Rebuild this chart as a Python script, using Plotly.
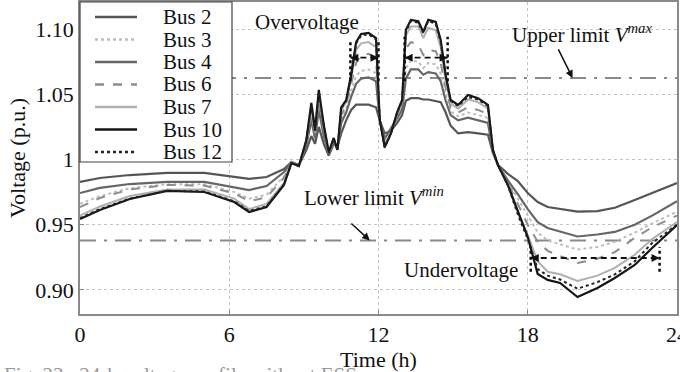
import plotly.graph_objects as go

T = [0, 0.8, 2, 3.5, 5, 6.2, 6.8, 7.5, 8.2, 8.5, 8.8, 9.1, 9.3, 9.45, 9.6, 9.8, 10.0, 10.2, 10.35, 10.5,
     10.7, 10.9, 11.1, 11.3, 11.6, 11.9, 12.05, 12.25, 12.5, 12.75, 12.95, 13.1, 13.3, 13.6, 13.8, 14.0,
     14.3, 14.5, 14.7, 14.9, 15.2, 15.6, 16.0, 16.4, 16.6, 16.8, 17.2, 17.6, 18.0, 18.4, 18.8, 19.3,
     20.0, 20.8, 21.5, 22.3, 23.0, 24.0]

bus2 = [0.9828, 0.9858, 0.9881, 0.9897, 0.9897, 0.9866, 0.9851, 0.9866, 0.9927, 0.9981, 0.9958, 1.0073,
        1.018, 1.012, 1.025, 1.012, 1.003, 1.012, 1.010, 1.020, 1.030, 1.038, 1.042, 1.042, 1.042, 1.040,
        1.030, 1.020, 1.022, 1.028, 1.034, 1.045, 1.047, 1.047, 1.046, 1.046, 1.045, 1.044, 1.036, 1.026,
        1.020, 1.021, 1.020, 1.019, 1.005, 0.996, 0.989, 0.9835, 0.9743, 0.9674, 0.9636, 0.962, 0.960,
        0.9605, 0.963, 0.969, 0.9743, 0.982]
bus3 = [0.966, 0.972, 0.978, 0.981, 0.981, 0.975, 0.970, 0.973, 0.987, 0.998, 0.995, 1.012, 1.033, 1.018,
        1.042, 1.020, 1.004, 1.015, 1.008, 1.031, 1.039, 1.053, 1.064, 1.068, 1.069, 1.066, 1.030, 1.014,
        1.022, 1.033, 1.040, 1.070, 1.076, 1.075, 1.070, 1.074, 1.073, 1.066, 1.050, 1.037, 1.033, 1.036,
        1.034, 1.032, 1.006, 0.996, 0.983, 0.970, 0.956, 0.944, 0.938, 0.935, 0.931, 0.933, 0.937, 0.944,
        0.951, 0.960]
bus4 = [0.9743, 0.9782, 0.9812, 0.9828, 0.9828, 0.9789, 0.9766, 0.9797, 0.9904, 0.9981, 0.9958, 1.011,
        1.030, 1.016, 1.038, 1.018, 1.004, 1.014, 1.008, 1.028, 1.036, 1.048, 1.058, 1.062, 1.063, 1.060,
        1.030, 1.016, 1.024, 1.032, 1.038, 1.062, 1.069, 1.069, 1.065, 1.067, 1.066, 1.060, 1.045, 1.034,
        1.030, 1.032, 1.030, 1.028, 1.006, 0.996, 0.984, 0.9735, 0.962, 0.952, 0.9475, 0.945, 0.941,
        0.9425, 0.9445, 0.950, 0.957, 0.968]
bus6 = [0.9636, 0.9705, 0.977, 0.9805, 0.980, 0.974, 0.968, 0.971, 0.986, 0.998, 0.995, 1.013, 1.036,
        1.019, 1.045, 1.022, 1.004, 1.015, 1.008, 1.034, 1.042, 1.058, 1.074, 1.080, 1.081, 1.077, 1.030,
        1.012, 1.020, 1.034, 1.042, 1.085, 1.090, 1.088, 1.080, 1.084, 1.083, 1.074, 1.055, 1.040, 1.036,
        1.040, 1.038, 1.035, 1.006, 0.996, 0.982, 0.966, 0.950, 0.937, 0.930, 0.926, 0.9207, 0.924, 0.929,
        0.940, 0.948, 0.957]
bus7 = [0.957, 0.964, 0.972, 0.977, 0.977, 0.970, 0.962, 0.966, 0.982, 0.998, 0.995, 1.014, 1.040, 1.021,
        1.050, 1.025, 1.005, 1.016, 1.008, 1.038, 1.044, 1.062, 1.084, 1.089, 1.090, 1.086, 1.030, 1.010,
        1.020, 1.035, 1.044, 1.095, 1.102, 1.102, 1.093, 1.101, 1.099, 1.086, 1.060, 1.043, 1.039, 1.046,
        1.044, 1.039, 1.007, 0.996, 0.981, 0.960, 0.942, 0.922, 0.914, 0.912, 0.907, 0.911, 0.917, 0.927,
        0.939, 0.952]
bus10 = [0.9544, 0.9613, 0.9697, 0.9759, 0.9751, 0.9674, 0.9598, 0.9636, 0.9805, 0.9973, 0.995, 1.015,
         1.0433, 1.0226, 1.0533, 1.0264, 1.0057, 1.0165, 1.0073, 1.040, 1.0456, 1.0648, 1.090, 1.0962,
         1.097, 1.093, 1.0303, 1.0096, 1.020, 1.0364, 1.0456, 1.0992, 1.107, 1.106, 1.0977, 1.107, 1.1054,
         1.0916, 1.0648, 1.0456, 1.0418, 1.0494, 1.047, 1.0418, 1.0073, 0.9958, 0.9805, 0.9598, 0.9406,
         0.9123, 0.9077, 0.9054, 0.8946, 0.9015, 0.9092, 0.9192, 0.9322, 0.9498]
bus12 = [0.955, 0.962, 0.970, 0.976, 0.9755, 0.968, 0.9605, 0.964, 0.981, 0.997, 0.995, 1.015, 1.042,
         1.022, 1.052, 1.026, 1.005, 1.016, 1.007, 1.039, 1.045, 1.064, 1.089, 1.095, 1.096, 1.092, 1.030,
         1.009, 1.020, 1.036, 1.045, 1.098, 1.106, 1.105, 1.097, 1.106, 1.104, 1.090, 1.064, 1.045, 1.041,
         1.048, 1.046, 1.041, 1.007, 0.996, 0.980, 0.958, 0.939, 0.916, 0.911, 0.908, 0.901, 0.906, 0.912,
         0.922, 0.936, 0.950]

V_MAX = 1.0625
V_MIN = 0.938
X_TICKS = [0, 6, 12, 18, 24]
Y_TICKS = [0.90, 0.95, 1.0, 1.05, 1.10]
Y_TICK_LABELS = ["0.90", "0.95", "1", "1.05", "1.10"]

OV1 = (10.87, 12.0)
OV2 = (13.05, 14.78)
UV = (18.12, 23.3)
OV_ARROW_Y = 1.078
UV_ARROW_Y = 0.9245

series = [
    ("Bus 2", bus2, "#555555", "solid", 2.2),
    ("Bus 3", bus3, "#bdbdbd", "dot", 2),
    ("Bus 4", bus4, "#666666", "solid", 2.2),
    ("Bus 6", bus6, "#8c8c8c", "dash", 2),
    ("Bus 7", bus7, "#b0b0b0", "solid", 2),
    ("Bus 10", bus10, "#151515", "solid", 2.2),
    ("Bus 12", bus12, "#222222", "dot", 2),
]

FONT = "Liberation Serif"
W, H = 680, 372
ML, MR, MT, MB = 80, 3, 2, 58
PW, PH = W - ML - MR, H - MT - MB


def px_x(px):
    return (px - ML) / PW


def px_y(py):
    return (H - MB - py) / PH


fig = go.Figure()

lim_dash = "16px,8px,3px,8px"
fig.add_trace(go.Scatter(x=[0, 24], y=[V_MAX, V_MAX], mode="lines", showlegend=False,
                         line=dict(color="#8a8a8a", width=2, dash=lim_dash)))
fig.add_trace(go.Scatter(x=[0, 24], y=[V_MIN, V_MIN], mode="lines", showlegend=False,
                         line=dict(color="#8a8a8a", width=2, dash=lim_dash)))

for name, vals, col, dash, w in series:
    fig.add_trace(go.Scatter(x=T, y=vals, mode="lines", name=name, showlegend=False,
                             line=dict(color=col, width=w, dash=dash)))

shapes = []
for (a, b), (y0, y1) in [(OV1, (1.060, 1.091)), (OV2, (1.060, 1.094)), (UV, (0.914, 0.933))]:
    for xx in (a, b):
        shapes.append(dict(type="line", xref="x", yref="y", x0=xx, x1=xx, y0=y0, y1=y1,
                           line=dict(color="#111111", width=2.5, dash="dot")))
for (a, b), yy in [(OV1, OV_ARROW_Y), (OV2, OV_ARROW_Y), (UV, UV_ARROW_Y)]:
    shapes.append(dict(type="line", xref="x", yref="y", x0=a, x1=b, y0=yy, y1=yy,
                       line=dict(color="#111111", width=1.8, dash="6px,4px")))

annotations = []
for (a, b), yy in [(OV1, OV_ARROW_Y), (OV2, OV_ARROW_Y), (UV, UV_ARROW_Y)]:
    for tip, tail in ((a, a + 0.25), (b, b - 0.25)):
        annotations.append(dict(x=tip, y=yy, ax=tail, ay=yy, xref="x", yref="y", axref="x", ayref="y",
                                text="", showarrow=True, arrowhead=2, arrowsize=1, arrowwidth=1.6,
                                arrowcolor="#111111"))

# legend box (drawn by hand to match the compact row spacing)
shapes.append(dict(type="rect", xref="paper", yref="paper", x0=px_x(80), x1=px_x(232),
                   y0=px_y(162), y1=px_y(2), fillcolor="white", line=dict(color="#444444", width=1.2),
                   layer="above"))
for i, (name, vals, col, dash, w) in enumerate(series):
    ry = 17 + i * 22.5
    shapes.append(dict(type="line", xref="paper", yref="paper", x0=px_x(95), x1=px_x(137),
                       y0=px_y(ry), y1=px_y(ry), line=dict(color=col, width=w + 0.3, dash=dash),
                       layer="above"))
    annotations.append(dict(x=px_x(161), y=px_y(ry), xref="paper", yref="paper", xanchor="left",
                            yanchor="middle", text=name, showarrow=False,
                            font=dict(family=FONT, size=21, color="#111111")))

tf = dict(family=FONT, size=21, color="#111111")
annotations += [
    dict(x=9.14, y=1.1054, xref="x", yref="y", text="Overvoltage", showarrow=False, font=tf),
    dict(x=20.2, y=1.0965, xref="x", yref="y", text="Upper limit <i>V</i><sup><i>max</i></sup>",
         showarrow=False, font=tf),
    dict(x=19.8, y=V_MAX, ax=19.2, ay=1.0855, xref="x", yref="y", axref="x", ayref="y", text="",
         showarrow=True, arrowhead=2, arrowsize=1, arrowwidth=1.5, arrowcolor="#111111"),
    dict(x=11.8, y=0.9713, xref="x", yref="y", text="Lower limit <i>V</i><sup><i>min</i></sup>",
         showarrow=False, font=tf),
    dict(x=11.65, y=V_MIN, ax=10.85, ay=0.952, xref="x", yref="y", axref="x", ayref="y", text="",
         showarrow=True, arrowhead=2, arrowsize=1, arrowwidth=1.5, arrowcolor="#111111"),
    dict(x=15.3, y=0.9153, xref="x", yref="y", text="Undervoltage", showarrow=False, font=tf),
    dict(x=0, y=px_y(361), xref="paper", yref="paper", xanchor="left", yanchor="top", xshift=-78,
         text="Fig. 23.  24-h voltage profile without ESS", showarrow=False,
         font=dict(family=FONT, size=21, color="#9a9a9a")),
]

axis_common = dict(showline=True, linecolor="#8a8a8a", linewidth=1.5, mirror=True,
                   showgrid=True, gridcolor="#c4c4c4", griddash="dot", gridwidth=1,
                   ticks="inside", ticklen=4, tickcolor="#8a8a8a", zeroline=False,
                   tickfont=dict(family=FONT, size=22, color="#111111"))

fig.update_layout(
    template="none",
    font=dict(family=FONT, size=22, color="#111111"),
    width=W, height=H,
    margin=dict(l=ML, r=MR, t=MT, b=MB),
    paper_bgcolor="white", plot_bgcolor="white",
    shapes=shapes, annotations=annotations, showlegend=False,
    xaxis=dict(range=[0, 24], tickvals=X_TICKS, ticktext=[str(v) for v in X_TICKS],
               ticklabeloverflow="allow",
               title=dict(text="Time (h)", font=dict(family=FONT, size=22, color="#111111"), standoff=0),
               **axis_common),
    yaxis=dict(range=[0.8816, 1.1207], tickvals=Y_TICKS, ticktext=Y_TICK_LABELS,
               title=dict(text="Voltage (p.u.)", font=dict(family=FONT, size=22, color="#111111"), standoff=4),
               **axis_common),
)

fig.write_html("out.html")
